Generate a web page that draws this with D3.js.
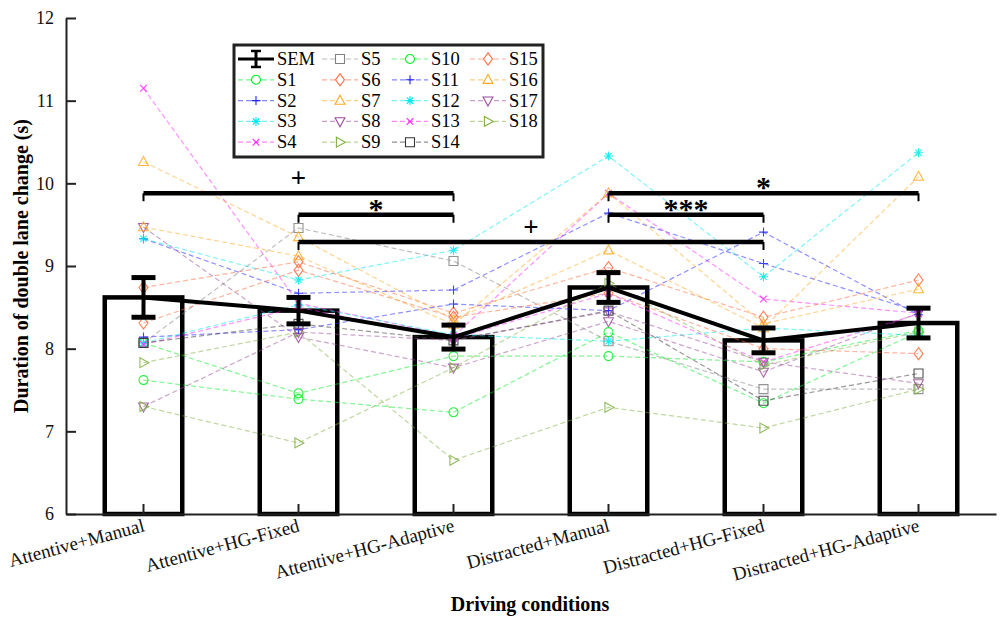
<!DOCTYPE html>
<html>
<head>
<meta charset="utf-8">
<script src="https://cdn.jsdelivr.net/npm/d3@7"></script>
<style>
  body { margin: 0; background: #fff; }
  text { font-family: "Liberation Serif", "Times New Roman", serif; }
</style>
</head>
<body>
<div id="chart"></div>
<script>
// categorias e valores
const conditions = ["Attentive+Manual", "Attentive+HG-Fixed", "Attentive+HG-Adaptive",
                    "Distracted+Manual", "Distracted+HG-Fixed", "Distracted+HG-Adaptive"];
const meanValues = [8.62, 8.46, 8.14, 8.74, 8.10, 8.31];
const semValues = [0.24, 0.16, 0.145, 0.18, 0.15, 0.18];
const yTicks = [6, 7, 8, 9, 10, 11, 12];

const subjects = ["S1","S2","S3","S4","S5","S6","S7","S8","S9",
                  "S10","S11","S12","S13","S14","S15","S16","S17","S18"];
const subjectValues = [
  [8.07, 7.46, 7.91, 7.91, 7.84, 8.22],   // S1
  [9.33, 8.67, 8.71, 9.64, 9.03, 8.45],   // S2
  [9.33, 8.83, 9.19, 10.33, 8.87, 10.37], // S3
  [11.15, 8.55, 8.15, 9.88, 8.60, 8.43],  // S4
  [8.07, 9.46, 9.06, 8.09, 7.51, 7.51],   // S5
  [8.74, 9.05, 8.43, 8.98, 8.38, 8.83],   // S6
  [10.26, 9.35, 8.35, 9.19, 8.25, 10.08], // S7
  [9.47, 8.14, 7.77, 8.33, 7.72, 8.43],   // S8
  [7.83, 8.20, 6.65, 7.29, 7.04, 7.51],   // S9
  [7.62, 7.39, 7.23, 8.20, 7.34, 8.20],   // S10
  [8.14, 8.23, 8.54, 8.46, 9.41, 8.41],   // S11
  [8.07, 8.53, 8.17, 8.09, 8.25, 8.16],   // S12
  [8.05, 8.50, 8.12, 8.67, 7.84, 8.42],   // S13
  [8.07, 8.30, 8.10, 8.46, 7.37, 7.70],   // S14
  [8.31, 8.95, 8.38, 8.67, 8.00, 7.94],   // S15
  [9.47, 9.12, 8.29, 9.88, 8.30, 8.72],   // S16
  [7.30, 8.20, 8.10, 8.45, 7.84, 7.58],   // S17
  [7.30, 6.86, 7.77, 8.79, 7.80, 8.20]    // S18
];
const subjectColors = ["#00ee22","#2222ff","#00e8f0","#ff22ff","#808080","#ff6a3d","#ffaa22","#9a4c9a","#7fb040",
                       "#00ee22","#2222ff","#00e8f0","#ff22ff","#333333","#ff6a3d","#ffaa22","#9a4c9a","#7fb040"];
const subjectMarkers = ["circle","plus","star","cross","square","diamond","triUp","triDown","triRight",
                        "circle","plus","star","cross","square","diamond","triUp","triDown","triRight"];

// colchetes de significância: [de, até, valor y, rótulo]
const brackets = [
  [0, 2, 9.88, "+"],
  [1, 2, 9.62, "*"],
  [1, 4, 9.29, "+"],
  [3, 5, 9.88, "*"],
  [3, 4, 9.62, "***"]
];

const W = 1001, H = 617;
const margin = {top: 18, right: 5, bottom: 103, left: 66};

const svg = d3.select("#chart").append("svg")
    .attr("width", W).attr("height", H);

const x = d3.scaleBand().domain(conditions).range([margin.left, W - margin.right]).padding(0);
const y = d3.scaleLinear().domain([6, 12]).range([H - margin.bottom, margin.top]);
const cx = c => x(c) + x.bandwidth() / 2;

// marcadores
function markerPath(type, r) {
  switch (type) {
    case "circle": return d3.symbol(d3.symbolCircle, Math.PI * r * r)();
    case "square": return `M${-r},${-r}H${r}V${r}H${-r}Z`;
    case "diamond": return `M0,${-r * 1.35}L${r},0L0,${r * 1.35}L${-r},0Z`;
    case "triUp": return `M0,${-r * 1.2}L${r * 1.1},${r * 0.8}L${-r * 1.1},${r * 0.8}Z`;
    case "triDown": return `M0,${r * 1.2}L${r * 1.1},${-r * 0.8}L${-r * 1.1},${-r * 0.8}Z`;
    case "triRight": return `M${r * 1.2},0L${-r * 0.8},${r * 1.1}L${-r * 0.8},${-r * 1.1}Z`;
    case "plus": return `M${-r},0H${r}M0,${-r}V${r}`;
    case "cross": return `M${-r * 0.75},${-r * 0.75}L${r * 0.75},${r * 0.75}M${-r * 0.75},${r * 0.75}L${r * 0.75},${-r * 0.75}`;
    case "star": return `M${-r},0H${r}M0,${-r}V${r}M${-r * 0.7},${-r * 0.7}L${r * 0.7},${r * 0.7}M${-r * 0.7},${r * 0.7}L${r * 0.7},${-r * 0.7}`;
  }
}

// barras
svg.append("g").selectAll("rect")
  .data(meanValues)
  .join("rect")
    .attr("x", (d, i) => cx(conditions[i]) - x.bandwidth() * 0.25)
    .attr("width", x.bandwidth() * 0.5)
    .attr("y", d => y(d))
    .attr("height", d => y(6) - y(d))
    .attr("fill", "#fff")
    .attr("stroke", "#000")
    .attr("stroke-width", 4.5);

// linhas dos sujeitos
const subjLine = d3.line().x((d, i) => cx(conditions[i])).y(d => y(d));
const subjG = svg.append("g");
subjectValues.forEach((vals, s) => {
  subjG.append("path")
    .attr("d", subjLine(vals))
    .attr("fill", "none")
    .attr("stroke", subjectColors[s])
    .attr("stroke-width", 1.2)
    .attr("stroke-dasharray", "5,3")
    .attr("stroke-opacity", 0.5);
});
subjectValues.forEach((vals, s) => {
  subjG.selectAll(null)
    .data(vals)
    .join("path")
      .attr("transform", (d, i) => `translate(${cx(conditions[i])},${y(d)})`)
      .attr("d", markerPath(subjectMarkers[s], 4.5))
      .attr("fill", "none")
      .attr("stroke", subjectColors[s])
      .attr("stroke-width", 1.1)
      .attr("stroke-opacity", 0.85);
});

// linha das médias com erro padrão
svg.append("path")
  .attr("d", d3.line().x((d, i) => cx(conditions[i])).y(d => y(d))(meanValues))
  .attr("fill", "none").attr("stroke", "#000").attr("stroke-width", 4);

const errG = svg.append("g").attr("stroke", "#000");
meanValues.forEach((m, i) => {
  const px = cx(conditions[i]);
  errG.append("line").attr("x1", px).attr("x2", px)
    .attr("y1", y(m + semValues[i])).attr("y2", y(m - semValues[i])).attr("stroke-width", 4);
  [m + semValues[i], m - semValues[i]].forEach(v => {
    errG.append("line").attr("x1", px - 12).attr("x2", px + 12)
      .attr("y1", y(v)).attr("y2", y(v)).attr("stroke-width", 5);
  });
});

// colchetes
const brG = svg.append("g");
brackets.forEach(b => {
  const x1 = cx(conditions[b[0]]), x2 = cx(conditions[b[1]]), yy = y(b[2]);
  brG.append("line").attr("x1", x1).attr("x2", x2).attr("y1", yy).attr("y2", yy)
    .attr("stroke", "#000").attr("stroke-width", 4.5);
  [x1, x2].forEach(xx => brG.append("line").attr("x1", xx).attr("x2", xx)
    .attr("y1", yy).attr("y2", yy + 8).attr("stroke", "#000").attr("stroke-width", 2));
  const isPlus = b[3] === "+";
  brG.append("text")
    .attr("x", (x1 + x2) / 2).attr("y", isPlus ? yy - 6 : yy + 4)
    .attr("text-anchor", "middle")
    .style("font-size", isPlus ? "27px" : "30px")
    .style("font-weight", "bold")
    .text(b[3]);
});

// eixos
const yAxis = svg.append("g")
  .attr("transform", `translate(${margin.left},0)`)
  .call(d3.axisLeft(y).tickValues(yTicks).tickSize(-10).tickSizeOuter(0).tickPadding(12).tickFormat(d3.format("d")));
const xAxis = svg.append("g")
  .attr("transform", `translate(0,${H - margin.bottom})`)
  .call(d3.axisBottom(x).tickSize(-10).tickSizeOuter(0).tickFormat(""));
[yAxis, xAxis].forEach(a => {
  a.select(".domain").attr("stroke", "#222").attr("stroke-width", 2);
  a.selectAll(".tick line").attr("stroke", "#222").attr("stroke-width", 2);
});
yAxis.selectAll(".tick text").style("font-size", "18px").attr("fill", "#111");

svg.append("g").selectAll("text")
  .data(conditions)
  .join("text")
    .attr("transform", d => `translate(${cx(d) + 2},${H - margin.bottom + 17}) rotate(-15)`)
    .attr("text-anchor", "end")
    .style("font-size", "19px")
    .attr("fill", "#111")
    .text(d => d);

svg.append("text")
  .attr("x", 530).attr("y", 611)
  .attr("text-anchor", "middle")
  .style("font-size", "20px").style("font-weight", "bold")
  .text("Driving conditions");

svg.append("text")
  .attr("transform", `translate(28,266) rotate(-90)`)
  .attr("text-anchor", "middle")
  .style("font-size", "20px").style("font-weight", "bold")
  .text("Duration of double lane change (s)");

// legenda
const leg = svg.append("g");
leg.append("rect").attr("x", 234).attr("y", 45).attr("width", 309).attr("height", 112)
  .attr("fill", "#fff").attr("stroke", "#222").attr("stroke-width", 3);
const legItems = ["SEM"].concat(subjects);
const colX = [238, 322, 392, 470];
legItems.forEach((name, k) => {
  const col = Math.floor(k / 5), row = k % 5;
  const lx = colX[col], ly = 59 + row * 20.8;
  const g = leg.append("g").attr("transform", `translate(${lx},${ly})`);
  if (k === 0) {
    g.append("line").attr("x1", 0).attr("x2", 36).attr("stroke", "#000").attr("stroke-width", 3);
    g.append("line").attr("x1", 18).attr("x2", 18).attr("y1", -8).attr("y2", 8).attr("stroke", "#000").attr("stroke-width", 3);
    [-8, 8].forEach(v => g.append("line").attr("x1", 13).attr("x2", 23).attr("y1", v).attr("y2", v)
      .attr("stroke", "#000").attr("stroke-width", 2.5));
  } else {
    const s = k - 1;
    g.append("line").attr("x1", 0).attr("x2", 36)
      .attr("stroke", subjectColors[s]).attr("stroke-width", 1.2)
      .attr("stroke-dasharray", "5,3").attr("stroke-opacity", 0.55);
    g.append("path").attr("transform", "translate(18,0)")
      .attr("d", markerPath(subjectMarkers[s], 4.5))
      .attr("fill", "#fff").attr("stroke", subjectColors[s]).attr("stroke-width", 1.1);
  }
  g.append("text").attr("x", 39).attr("y", 6).style("font-size", "18.5px").text(name);
});
</script>
</body>
</html>
